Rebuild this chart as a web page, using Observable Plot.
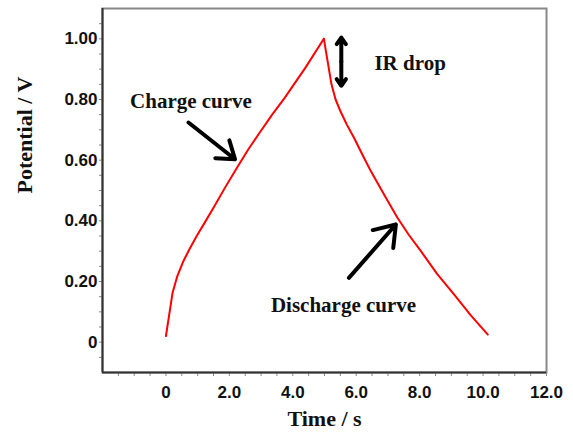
<!DOCTYPE html>
<html><head><meta charset="utf-8">
<script src="https://cdn.jsdelivr.net/npm/d3@7"></script>
<script src="https://cdn.jsdelivr.net/npm/@observablehq/plot@0.6"></script>
<style>body{margin:0;background:#fff}</style>
</head><body><div id="chart"></div>
<script>
// Galvanostatic charge/discharge data (Time / s, Potential / V)
const chargeTime = [0.0, 0.21, 0.35, 0.55, 0.75, 0.97, 1.2, 1.5, 1.85, 2.24, 2.6, 2.97, 3.35, 3.75, 4.4, 4.98];
const chargeV    = [0.02, 0.163, 0.215, 0.267, 0.308, 0.35, 0.39, 0.443, 0.507, 0.575, 0.636, 0.693, 0.75, 0.806, 0.905, 1.0];
const dischargeTime = [4.98, 5.22, 5.35, 5.5, 5.7, 5.93, 6.2, 6.46, 6.9, 7.3, 7.65, 8.04, 8.55, 9.09, 9.6, 10.15];
const dischargeV    = [1.0, 0.85, 0.80, 0.762, 0.718, 0.674, 0.617, 0.564, 0.483, 0.41, 0.355, 0.30, 0.225, 0.157, 0.09, 0.025];

const xTickLabels = [0, 2, 4, 6, 8, 10, 12];
const yTickLabels = [0, 0.2, 0.4, 0.6, 0.8, 1.0];
const xMinorTicks = d3.range(-1.5, 12.01, 0.5);
const yMinorTicks = d3.range(-0.05, 1.051, 0.05);

// annotations
const noteText = ["Charge curve", "IR drop", "Discharge curve"];
const noteX    = [0.79, 7.7, 5.6];
const noteY    = [0.795, 0.921, 0.122];

const arrowX1 = [0.71, 5.77, 5.53, 5.53];
const arrowY1 = [0.724, 0.212, 0.925, 0.925];
const arrowX2 = [2.18, 7.25, 5.53, 5.53];
const arrowY2 = [0.603, 0.388, 1.004, 0.845];

const charge = chargeTime.map((t, i) => ({t, v: chargeV[i]}));
const discharge = dischargeTime.map((t, i) => ({t, v: dischargeV[i]}));
const notes = noteText.map((text, i) => ({text, x: noteX[i], y: noteY[i]}));
const arrows = arrowX1.map((x1, i) => ({x1, y1: arrowY1[i], x2: arrowX2[i], y2: arrowY2[i]}));

const tickFont = "'Liberation Sans', Arial, sans-serif";
const serif = "'Liberation Serif', 'Times New Roman', serif";

const chart = Plot.plot({
  width: 573, height: 439,
  marginLeft: 102, marginRight: 27, marginTop: 8, marginBottom: 67,
  x: {domain: [-2, 12], label: null},
  y: {domain: [-0.1, 1.1], label: null},
  style: {background: "#fff", color: "#000"},
  marks: [
    Plot.axisX(xMinorTicks, {tickSize: 4, tickFormat: () => "", stroke: "#888", label: null}),
    Plot.axisY(yMinorTicks, {tickSize: 3, tickFormat: () => "", stroke: "#888", label: null}),
    Plot.axisX(xTickLabels, {tickSize: 0, tickPadding: 13, label: null,
      tickFormat: d => d === 0 ? "0" : d.toFixed(1),
      fontSize: 17, fontWeight: "bold", fontFamily: tickFont, fill: "#111"}),
    Plot.axisY(yTickLabels, {tickSize: 0, tickPadding: 5, label: null,
      tickFormat: d => d === 0 ? "0" : d.toFixed(2),
      fontSize: 17, fontWeight: "bold", fontFamily: tickFont, fill: "#111"}),
    Plot.frame({stroke: "#888", strokeWidth: 2}),
    Plot.ruleX([-2], {stroke: "#333", strokeWidth: 2}),
    Plot.ruleY([-0.1], {stroke: "#333", strokeWidth: 2}),
    Plot.line(charge, {x: "t", y: "v", stroke: "#ff0000", strokeWidth: 2}),
    Plot.line(discharge, {x: "t", y: "v", stroke: "#ff0000", strokeWidth: 2}),
    Plot.arrow(arrows, {x1: "x1", y1: "y1", x2: "x2", y2: "y2", stroke: "#000",
      strokeWidth: 4, headLength: 11, headAngle: 70}),
    Plot.text(notes, {x: "x", y: "y", text: "text", fontFamily: serif,
      fontWeight: "bold", fontSize: 21, fill: "#111"}),
    Plot.text(["Potential / V"], {frameAnchor: "left", dx: -78, dy: 3, rotate: -90,
      fontFamily: serif, fontWeight: "bold", fontSize: 22, fill: "#111"}),
    Plot.text(["Time / s"], {frameAnchor: "bottom", dy: 53,
      fontFamily: serif, fontWeight: "bold", fontSize: 22, fill: "#111"})
  ]
});
document.getElementById("chart").append(chart);
</script>
</body></html>
